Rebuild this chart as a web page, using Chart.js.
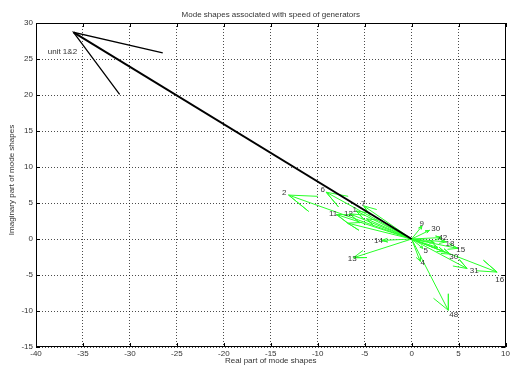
<!DOCTYPE html>
<html><head><meta charset="utf-8">
<script src="https://cdn.jsdelivr.net/npm/chart.js@4/dist/chart.umd.min.js"></script>
<style>html,body{margin:0;padding:0;background:#fff;}canvas{display:block}</style>
</head><body>
<canvas id="c" width="512" height="367"></canvas>
<script>
// ---- data ----
const xTicks = [-40,-35,-30,-25,-20,-15,-10,-5,0,5,10];
const yTicks = [-15,-10,-5,0,5,10,15,20,25,30];

const unitRe = [-36.0];
const unitIm = [28.7];
const unitLabels = ['unit 1&2'];
const unitLabelRe = [-38.75];
const unitLabelIm = [26.0];

const genRe = [-13.1,-9.1,-8.0,-6.6,-5.9,-5.1,-3.2,-6.2,1.1,1.9,3.2,3.7,4.9,1.2,4.1,0.9,5.9,9.1,3.9,-6.8,-4.8,2.8,3.5,2.4];
const genIm = [6.1,6.5,3.4,3.5,3.9,4.6,-0.2,-2.6,1.8,1.2,0.2,-0.4,-1.3,-1.3,-2.1,-3.1,-4.1,-4.6,-9.9,2.2,2.8,-1.2,-1.8,-0.5];

const genLabels = ['2','6','11','12','1','7','14','13','9','30','42','18','15','5','30','4','31','16','48'];
const genLabelRe = [-13.8,-9.7,-8.8,-7.2,-6.3,-5.4,-4.0,-6.8,0.85,2.1,2.85,3.6,4.75,1.25,4.0,0.95,6.2,8.9,4.0];
const genLabelIm = [6.4,6.9,3.5,3.5,4.0,4.9,-0.3,-2.8,2.1,1.4,0.15,-0.7,-1.5,-1.65,-2.5,-3.3,-4.45,-5.7,-10.55];

const titleText = 'Mode shapes associated with speed of generators';
const xTitle = 'Real part of mode shapes';
const yTitle = 'Imaginary part of mode shapes';

// ---- arrow geometry (MATLAB compass style) ----
function arrowPoints(re, im) {
  const h1 = {x: 0.8*re - 0.08*im, y: 0.8*im + 0.08*re};
  const h2 = {x: 0.8*re + 0.08*im, y: 0.8*im - 0.08*re};
  return [{x:0,y:0},{x:re,y:im},h1,{x:re,y:im},h2];
}

const FONT = 'Liberation Sans';
const datasets = [];
unitRe.forEach((r,i) => datasets.push({
  data: arrowPoints(r, unitIm[i]), showLine: true, borderColor: '#000', borderWidth: 1.3,
  segment: { borderWidth: c => c.p0DataIndex === 0 ? 2 : 1.3 },
  pointRadius: 0, order: 0, tension: 0
}));
genRe.forEach((r,i) => datasets.push({
  data: arrowPoints(r, genIm[i]), showLine: true, borderColor: 'rgb(40,255,40)', borderWidth: 1,
  pointRadius: 0, order: 1, tension: 0
}));

const decor = {
  id: 'decor',
  afterDatasetsDraw(chart) {
    const {ctx, chartArea: a, scales: {x, y}} = chart;
    ctx.save();
    // labels
    ctx.fillStyle = '#333';
    ctx.font = '8px "' + FONT + '"';
    ctx.textAlign = 'left'; ctx.textBaseline = 'middle';
    genLabels.forEach((t,i) => ctx.fillText(t, x.getPixelForValue(genLabelRe[i]), y.getPixelForValue(genLabelIm[i])));
    unitLabels.forEach((t,i) => ctx.fillText(t, x.getPixelForValue(unitLabelRe[i]), y.getPixelForValue(unitLabelIm[i])));
    // box
    ctx.strokeStyle = '#000'; ctx.lineWidth = 1; ctx.setLineDash([]);
    ctx.strokeRect(Math.round(a.left)+0.5, Math.round(a.top)+0.5, Math.round(a.right-a.left)-1, Math.round(a.bottom-a.top)-1);
    // inward ticks
    ctx.beginPath();
    xTicks.forEach(v => { const px = Math.round(x.getPixelForValue(v))+0.5;
      ctx.moveTo(px, a.bottom); ctx.lineTo(px, a.bottom-4);
      ctx.moveTo(px, a.top); ctx.lineTo(px, a.top+4); });
    yTicks.forEach(v => { const py = Math.round(y.getPixelForValue(v))+0.5;
      ctx.moveTo(a.left, py); ctx.lineTo(a.left+4, py);
      ctx.moveTo(a.right, py); ctx.lineTo(a.right-4, py); });
    ctx.stroke();
    // titles
    ctx.fillStyle = '#333';
    ctx.textAlign = 'center'; ctx.textBaseline = 'middle';
    ctx.fillText(titleText, (a.left+a.right)/2, 15);
    ctx.fillText(xTitle, (a.left+a.right)/2, 361);
    ctx.translate(12, 180);
    ctx.rotate(-Math.PI/2);
    ctx.fillText(yTitle, 0, 0);
    ctx.restore();
  }
};

new Chart(document.getElementById('c'), {
  type: 'scatter',
  data: { datasets },
  options: {
    responsive: false, animation: false, events: [],
    layout: { padding: { top: 23, right: 3, left: 0, bottom: 0 } },
    plugins: { legend: { display: false }, tooltip: { enabled: false } },
    scales: {
      x: {
        type: 'linear', min: -40, max: 10,
        afterBuildTicks: s => { s.ticks = xTicks.map(v => ({value: v})); },
        afterFit: s => { s.height = 20; },
        ticks: { color: '#333', font: { family: FONT, size: 8 }, padding: 2, maxRotation: 0, autoSkip: false },
        grid: { color: 'rgba(0,0,0,0.7)', drawTicks: false, lineWidth: 1 },
        border: { display: false, dash: [1,2] }
      },
      y: {
        type: 'linear', min: -15, max: 30,
        afterBuildTicks: s => { s.ticks = yTicks.map(v => ({value: v})); },
        afterFit: s => { s.width = 36; },
        ticks: { color: '#333', font: { family: FONT, size: 8 }, padding: 3, autoSkip: false },
        grid: { color: 'rgba(0,0,0,0.7)', drawTicks: false, lineWidth: 1 },
        border: { display: false, dash: [1,2] }
      }
    }
  },
  plugins: [decor]
});
</script>
</body></html>
